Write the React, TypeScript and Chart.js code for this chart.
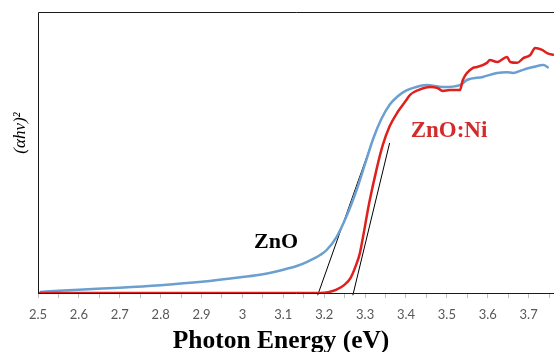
import React, { useEffect, useRef } from "react";
import { Chart, registerables } from "chart.js";

Chart.register(...registerables);

// ZnO (blue) absorption curve: photon energy (eV) and (αhν)² (arbitrary units)
const znoEnergy = [2.505, 2.55, 2.6, 2.7, 2.8, 2.9, 3.0, 3.05, 3.1, 3.133, 3.157, 3.19, 3.206, 3.23, 3.255, 3.28, 3.3, 3.32, 3.34, 3.36, 3.38, 3.4, 3.42, 3.45, 3.49, 3.532, 3.549, 3.588, 3.623, 3.647, 3.662, 3.686, 3.711, 3.736, 3.749];
const znoValue = [0.004, 0.008, 0.012, 0.019, 0.028, 0.04, 0.057, 0.067, 0.083, 0.096, 0.11, 0.135, 0.153, 0.199, 0.275, 0.37, 0.46, 0.55, 0.62, 0.67, 0.7, 0.72, 0.731, 0.74, 0.733, 0.74, 0.758, 0.769, 0.783, 0.786, 0.783, 0.794, 0.804, 0.811, 0.801];

// ZnO:Ni (red) absorption curve
const niEnergy = [2.5, 2.8, 3.1, 3.19, 3.21, 3.23, 3.25, 3.265, 3.278, 3.287, 3.295, 3.31, 3.328, 3.343, 3.36, 3.38, 3.4, 3.41, 3.43, 3.459, 3.476, 3.49, 3.507, 3.532, 3.539, 3.564, 3.574, 3.598, 3.605, 3.623, 3.647, 3.655, 3.672, 3.687, 3.704, 3.716, 3.733, 3.745, 3.762];
const niValue = [0, 0, 0, 0, 0.003, 0.012, 0.03, 0.055, 0.1, 0.14, 0.2, 0.32, 0.44, 0.525, 0.593, 0.645, 0.685, 0.705, 0.722, 0.733, 0.73, 0.719, 0.722, 0.722, 0.758, 0.801, 0.804, 0.819, 0.829, 0.822, 0.84, 0.822, 0.819, 0.836, 0.847, 0.872, 0.865, 0.854, 0.847];

// Tangent (Tauc) lines: [start, end]
const znoTangentEnergy = [3.184, 3.329];
const znoTangentValue = [-0.008, 0.587];
const niTangentEnergy = [3.27, 3.36];
const niTangentValue = [-0.008, 0.534];

// Axis ticks
const xMin = 2.5;
const xMax = 3.762;
const xTickLabels = ["2.5", "2.6", "2.7", "2.8", "2.9", "3", "3.1", "3.2", "3.3", "3.4", "3.5", "3.6", "3.7"];

const xTitle = "Photon Energy (eV)";
const yTitle = "(\u03B1h\u03BD)\u00B2";
const znoLabel = "ZnO";
const niLabel = "ZnO:Ni";

const pts = (xs: number[], ys: number[]) => xs.map((x, i) => ({ x, y: ys[i] }));

const overlay = {
  id: "overlay",
  afterDatasetsDraw(chart: any) {
    const { ctx, chartArea } = chart;
    const { left, top, right, bottom } = chartArea;
    ctx.save();
    ctx.strokeStyle = "#1a1a1a";
    ctx.lineWidth = 1;
    ctx.beginPath();
    ctx.moveTo(left + 0.5, bottom);
    ctx.lineTo(left + 0.5, top + 0.5);
    ctx.lineTo(right + 2, top + 0.5);
    ctx.moveTo(left, bottom + 0.5);
    ctx.lineTo(right + 2, bottom + 0.5);
    ctx.stroke();
    ctx.restore();
  },
  afterDraw(chart: any) {
    const { ctx } = chart;
    ctx.save();
    // x title
    ctx.fillStyle = "#000";
    ctx.font = "bold 25.5px 'Liberation Serif', 'Times New Roman', serif";
    ctx.textAlign = "center";
    ctx.textBaseline = "alphabetic";
    ctx.fillText(xTitle, 281, 348);
    // series labels
    ctx.font = "bold 22px 'Liberation Serif', 'Times New Roman', serif";
    ctx.textBaseline = "middle";
    ctx.fillStyle = "#000";
    ctx.fillText(znoLabel, 276, 242);
    ctx.font = "bold 23px 'Liberation Serif', 'Times New Roman', serif";
    ctx.fillStyle = "#d42a2a";
    ctx.fillText(niLabel, 449, 131);
    // y title
    ctx.translate(21, 133);
    ctx.rotate(-Math.PI / 2);
    ctx.fillStyle = "#000";
    ctx.font = "italic 17px 'Liberation Serif', 'Times New Roman', serif";
    ctx.textAlign = "center";
    ctx.textBaseline = "middle";
    ctx.fillText(yTitle, 0, 0);
    ctx.restore();
  },
};

export default function App() {
  const ref = useRef<HTMLCanvasElement | null>(null);
  useEffect(() => {
    if (!ref.current) return;
    const chart = new Chart(ref.current, {
      type: "line",
      data: {
        datasets: [
          {
            label: "ZnO:Ni",
            data: pts(niEnergy, niValue),
            borderColor: "#e0201c",
            borderWidth: 2.5,
            pointRadius: 0,
            tension: 0.3,
            cubicInterpolationMode: "monotone",
          },
          {
            label: "ZnO",
            data: pts(znoEnergy, znoValue),
            borderColor: "#6a9fd0",
            borderWidth: 2.5,
            pointRadius: 0,
            tension: 0.3,
            cubicInterpolationMode: "monotone",
          },
          {
            label: "ZnO tangent",
            data: pts(znoTangentEnergy, znoTangentValue),
            borderColor: "#000",
            borderWidth: 1,
            pointRadius: 0,
            tension: 0,
            clip: false as any,
          },
          {
            label: "ZnO:Ni tangent",
            data: pts(niTangentEnergy, niTangentValue),
            borderColor: "#000",
            borderWidth: 1,
            pointRadius: 0,
            tension: 0,
            clip: false as any,
          },
        ],
      },
      options: {
        animation: false,
        responsive: false,
        maintainAspectRatio: false,
        layout: { padding: { left: 38, top: 12, right: 0, bottom: 0 } },
        plugins: { legend: { display: false }, tooltip: { enabled: false } },
        scales: {
          x: {
            type: "linear",
            min: xMin,
            max: xMax,
            afterBuildTicks: (scale: any) => {
              const ticks: { value: number }[] = [];
              xTickLabels.forEach((l) => {
                const v = parseFloat(l);
                ticks.push({ value: v });
                const half = Math.round((v + 0.05) * 100) / 100;
                if (half <= xMax) ticks.push({ value: half });
              });
              scale.ticks = ticks;
            },
            afterFit: (scale: any) => {
              scale.height = 59;
              scale.paddingRight = 0;
            },
            grid: {
              drawOnChartArea: false,
              drawTicks: true,
              tickLength: 5,
              color: "#bdbdbd",
            },
            border: { display: false },
            ticks: {
              autoSkip: false,
              maxRotation: 0,
              padding: 9,
              color: "#595959",
              font: { family: "Lato, 'Liberation Sans', sans-serif", size: 13 },
              callback: (value: any) => {
                const v = Number(value);
                const idx = xTickLabels.findIndex((l) => Math.abs(parseFloat(l) - v) < 1e-6);
                return idx >= 0 ? xTickLabels[idx] : "";
              },
            },
          },
          y: {
            display: false,
            min: 0,
            max: 1,
          },
        },
      },
      plugins: [overlay],
    });
    return () => chart.destroy();
  }, []);
  return (
    <div style={{ position: "fixed", left: 0, top: 0, width: 554, height: 352, background: "#fff" }}>
      <canvas ref={ref} width={554} height={352} style={{ display: "block", width: 554, height: 352 }} />
    </div>
  );
}
